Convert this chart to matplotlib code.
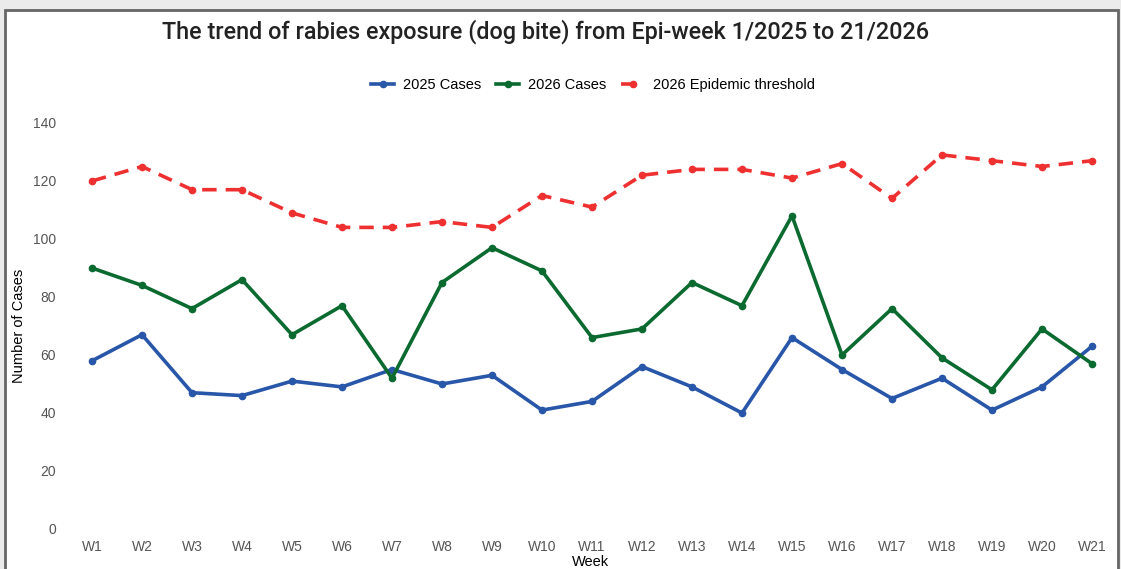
import matplotlib.pyplot as plt
from matplotlib.patches import Rectangle

weeks = ["W" + str(i) for i in range(1, 22)]
cases_2025 = [58, 67, 47, 46, 51, 49, 55, 50, 53, 41, 44, 56, 49, 40, 66, 55, 45, 52, 41, 49, 63]
cases_2026 = [90, 84, 76, 86, 67, 77, 52, 85, 97, 89, 66, 69, 85, 77, 108, 60, 76, 59, 48, 69, 57]
threshold_2026 = [120, 125, 117, 117, 109, 104, 104, 106, 104, 115, 111, 122, 124, 124, 121, 126, 114, 129, 127, 125, 127]

plt.rcParams["font.family"] = ["Liberation Sans", "DejaVu Sans"]

W, H = 1121, 569
fig = plt.figure(figsize=(W / 100, H / 100), dpi=100)
fig.patch.set_facecolor("#ebebeb")

# white card with grey frame
fig.patches.append(Rectangle((5 / W, -0.05), (1118 - 5) / W, (H - 10) / H + 0.05,
                             transform=fig.transFigure, facecolor="white",
                             edgecolor="#666666", linewidth=2, zorder=-5))

ax = fig.add_axes([70 / W, 1 - 529 / H, 1040 / W, (529 - 123) / H])
x = list(range(len(weeks)))

ax.plot(x, cases_2025, color="#2856a8", linewidth=2.6, marker="o", markersize=4.5, label="2025 Cases")
ax.plot(x, cases_2026, color="#0b6a30", linewidth=2.6, marker="o", markersize=4.5, label="2026 Cases")
ax.plot(x, threshold_2026, color="#ee3030", linewidth=2.6, marker="o", markersize=4.5,
        linestyle=(0, (4, 2.5)), label="2026 Epidemic threshold")

ax.set_xlim(-22 / 50, 20 + 18 / 50)
ax.set_ylim(0, 140)
ax.set_yticks(range(0, 141, 20))
ax.set_xticks(x)
ax.set_xticklabels(weeks)
ax.tick_params(axis="both", length=0, labelsize=10, labelcolor="#555555")
ax.tick_params(axis="x", pad=8)
ax.tick_params(axis="y", pad=10)
for s in ax.spines.values():
    s.set_visible(False)
ax.patch.set_alpha(0)

ax.set_xlabel("Week", fontsize=10.5, labelpad=1)
ax.set_ylabel("Number of Cases", fontsize=10.5)
ax.yaxis.set_label_coords((26 - 70) / 1040, 0.5)

fig.text(546 / W, 1 - 32 / H, "The trend of rabies exposure (dog bite) from Epi-week 1/2025 to 21/2026",
         ha="center", va="center", fontsize=16.8, color="#222222", fontweight="medium",
         family=["Roboto", "DejaVu Sans"])

fig.legend(loc="center", bbox_to_anchor=(593 / W, 1 - 85 / H), ncol=3, frameon=False,
           fontsize=10.5, handlelength=1.6, columnspacing=1.0, handletextpad=0.6)

plt.savefig("out.png", dpi=100, facecolor=fig.get_facecolor())
